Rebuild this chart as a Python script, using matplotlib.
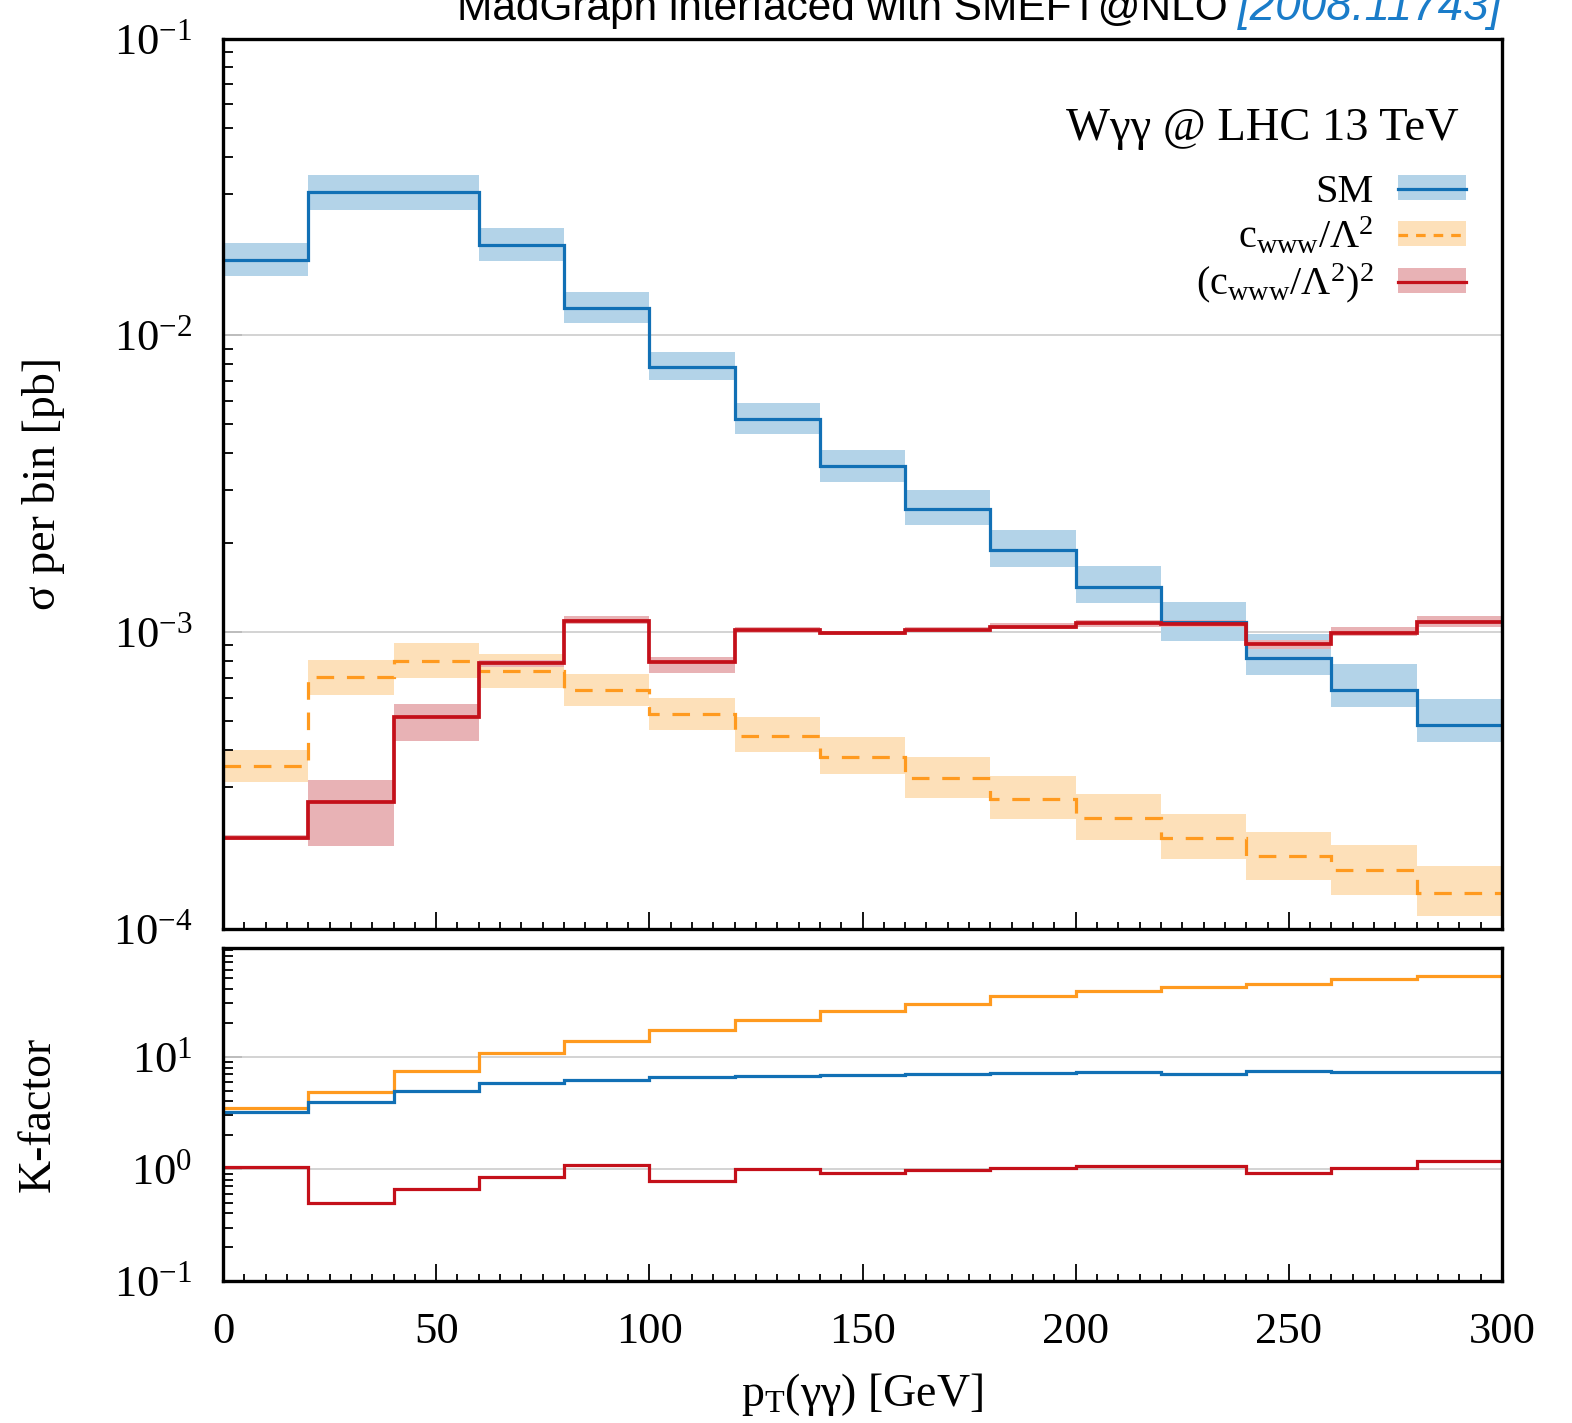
import numpy as np
import matplotlib
matplotlib.use("Agg")
import matplotlib.pyplot as plt
from matplotlib import ticker
from matplotlib.patches import Patch
from matplotlib.lines import Line2D

# ---------------- data ----------------
bin_edges = [0, 20, 40, 60, 80, 100, 120, 140, 160, 180, 200, 220, 240, 260, 280, 300]

sm = [0.01795, 0.0304, 0.0304, 0.0202, 0.01232, 0.00784, 0.00520, 0.00361, 0.00260,
      0.00188, 0.00142, 0.00108, 0.000816, 0.000637, 0.000485]
sm_hi = [0.0204, 0.0347, 0.0347, 0.0229, 0.01393, 0.00880, 0.00591, 0.00410, 0.00300,
         0.00220, 0.00167, 0.00126, 0.000986, 0.000780, 0.000594]
sm_lo = [0.0158, 0.0264, 0.0264, 0.01773, 0.01102, 0.00707, 0.00465, 0.00319, 0.00230,
         0.00166, 0.00125, 0.000933, 0.000716, 0.000558, 0.000425]

lin = [3.52e-4, 7.03e-4, 7.97e-4, 7.38e-4, 6.35e-4, 5.27e-4, 4.46e-4, 3.79e-4, 3.21e-4,
       2.73e-4, 2.35e-4, 2.02e-4, 1.75e-4, 1.57e-4, 1.32e-4]
lin_hi = [3.99e-4, 8.04e-4, 9.18e-4, 8.42e-4, 7.21e-4, 5.98e-4, 5.16e-4, 4.41e-4, 3.78e-4,
          3.26e-4, 2.83e-4, 2.43e-4, 2.12e-4, 1.91e-4, 1.63e-4]
lin_lo = [3.11e-4, 6.12e-4, 6.99e-4, 6.46e-4, 5.62e-4, 4.66e-4, 3.93e-4, 3.31e-4, 2.76e-4,
          2.34e-4, 1.99e-4, 1.71e-4, 1.46e-4, 1.30e-4, 1.10e-4]

quad = [2.02e-4, 2.66e-4, 5.16e-4, 7.83e-4, 1.089e-3, 7.91e-4, 1.016e-3, 9.92e-4, 1.018e-3,
        1.040e-3, 1.073e-3, 1.064e-3, 9.07e-4, 9.94e-4, 1.081e-3]
quad_hi = [2.07e-4, 3.16e-4, 5.72e-4, 8.05e-4, 1.135e-3, 8.23e-4, 1.04e-3, 1.01e-3, 1.035e-3,
           1.07e-3, 1.10e-3, 1.10e-3, 9.35e-4, 1.04e-3, 1.13e-3]
quad_lo = [1.98e-4, 1.90e-4, 4.28e-4, 7.60e-4, 1.064e-3, 7.28e-4, 0.99e-3, 0.975e-3, 1.0e-3,
           1.02e-3, 1.04e-3, 1.04e-3, 8.75e-4, 0.965e-3, 1.04e-3]

k_sm = [3.21, 3.96, 4.92, 5.88, 6.17, 6.65, 6.74, 6.88, 7.07, 7.16, 7.31, 6.97, 7.41, 7.31, 7.26]
k_lin = [3.46, 4.89, 7.51, 10.7, 13.96, 17.4, 21.4, 25.8, 29.5, 35.0, 38.5, 41.5, 44.8, 49.2, 52.0]
k_quad = [1.04, 0.492, 0.660, 0.843, 1.085, 0.772, 0.993, 0.928, 0.980, 1.02, 1.056, 1.07,
          0.915, 1.014, 1.17]

labels = ["SM", r"c$_\mathregular{www}$/Λ$^\mathregular{2}$",
          r"(c$_\mathregular{www}$/Λ$^\mathregular{2}$)$^\mathregular{2}$"]

# ---------------- style ----------------
plt.rcParams["font.family"] = ["Liberation Serif", "DejaVu Serif"]
plt.rcParams["mathtext.fontset"] = "custom"
plt.rcParams["mathtext.rm"] = "Liberation Serif"
plt.rcParams["mathtext.it"] = "Liberation Serif:italic"
plt.rcParams["axes.unicode_minus"] = False

c_blue, c_blue_b = "#1170b5", "#b3d3e8"
c_orng, c_orng_b = "#ff9a1f", "#fde0b9"
c_red, c_red_b = "#c4101a", "#e8b2b5"

W, H = 1572, 1423
fig = plt.figure(figsize=(W / 100, H / 100), dpi=100)
left, right = 223 / W, 1502 / W
ax1 = fig.add_axes([left, 1 - 928.5 / H, right - left, (928.5 - 38.5) / H])
ax2 = fig.add_axes([left, 1 - 1281 / H, right - left, (1281 - 948) / H])

edges = np.array(bin_edges)
lw = 2.3

# top panel bands + lines
ax1.stairs(sm_hi, edges, baseline=sm_lo, fill=True, color=c_blue_b, lw=0, zorder=2)
ax1.stairs(lin_hi, edges, baseline=lin_lo, fill=True, color=c_orng_b, lw=0, zorder=1)
ax1.stairs(quad_hi, edges, baseline=quad_lo, fill=True, color=c_red_b, lw=0, zorder=2)
ax1.stairs(lin, edges, baseline=None, color=c_orng, lw=lw, linestyle=(0, (5.5, 4)), zorder=4)
ax1.stairs(sm, edges, baseline=None, color=c_blue, lw=lw, zorder=4)
ax1.stairs(quad, edges, baseline=None, color=c_red, lw=lw + 0.4, zorder=5)

# bottom panel K-factors
ax2.stairs(k_lin, edges, baseline=None, color=c_orng, lw=lw, zorder=4)
ax2.stairs(k_sm, edges, baseline=None, color=c_blue, lw=lw, zorder=4)
ax2.stairs(k_quad, edges, baseline=None, color=c_red, lw=lw, zorder=4)

ax1.set_yscale("log")
ax2.set_yscale("log")
ax1.set_ylim(1e-4, 1e-1)
ax2.set_ylim(0.1, 10 ** 1.97)
for ax in (ax1, ax2):
    ax.set_xlim(0, 300)
    ax.xaxis.set_major_locator(ticker.MultipleLocator(50))
    ax.xaxis.set_minor_locator(ticker.MultipleLocator(5))
    ax.yaxis.set_major_locator(ticker.LogLocator(base=10, numticks=10))
    ax.yaxis.set_minor_locator(ticker.LogLocator(base=10, subs=np.arange(2, 10), numticks=10))
    ax.yaxis.set_minor_formatter(ticker.NullFormatter())
    ax.tick_params(axis="x", which="major", direction="in", length=12, width=1.3,
                   labelsize=32, pad=22, top=False)
    ax.tick_params(axis="x", which="minor", direction="in", length=5, width=1.3, top=False)
    ax.tick_params(axis="y", which="major", direction="in", length=14, width=1.3,
                   color="#bbbbbb", labelsize=32, pad=22, right=False)
    ax.tick_params(axis="y", which="minor", direction="in", length=7, width=1.3, right=False)
    ax.grid(True, which="major", axis="y", color="#cccccc", lw=1.2, zorder=0)
    for s in ax.spines.values():
        s.set_linewidth(2.4)
        s.set_zorder(10)
ax1.tick_params(axis="x", labelbottom=False)

ax1.set_ylabel("σ per bin [pb]", fontsize=33)
ax2.set_ylabel("K-factor", fontsize=33)
ax2.set_xlabel(r"p$_\mathregular{T}$(γγ) [GeV]", fontsize=33, labelpad=14)
ax1.yaxis.set_label_coords(-0.1235, 0.5)
ax2.yaxis.set_label_coords(-0.1275, 0.5)

# header text and legend
ax1.text(0.966, 0.899, "Wγγ @ LHC 13 TeV", transform=ax1.transAxes, ha="right",
         va="center", fontsize=33.5)
handles = [
    (Patch(facecolor=c_blue_b, lw=0), Line2D([], [], color=c_blue, lw=lw)),
    (Patch(facecolor=c_orng_b, lw=0), Line2D([], [], color=c_orng, lw=lw, linestyle=(0, (3, 2.5)))),
    (Patch(facecolor=c_red_b, lw=0), Line2D([], [], color=c_red, lw=lw)),
]
ax1.legend(handles, labels, loc="upper right", bbox_to_anchor=(0.972, 0.848),
           frameon=False, markerfirst=False, fontsize=29, handlelength=1.7,
           handleheight=0.55, handletextpad=0.6, labelspacing=0.12, borderpad=0,
           borderaxespad=0)

# title (partly cropped at top edge, as in the reference)
t_blue = fig.text(1502 / W, 1 - 20 / H, "[2008.11743]", ha="right", va="baseline",
                  fontsize=33, color="#1a7cc9", style="italic",
                  family=["Liberation Sans", "DejaVu Sans"])
fig.canvas.draw()
bb = t_blue.get_window_extent()
fig.text(bb.x0 / W - 10 / W, 1 - 20 / H, "MadGraph interfaced with SMEFT@NLO", ha="right",
         va="baseline", fontsize=30.5, color="black",
         family=["Liberation Sans", "DejaVu Sans"])

fig.savefig("out.png", dpi=100, facecolor="white")
